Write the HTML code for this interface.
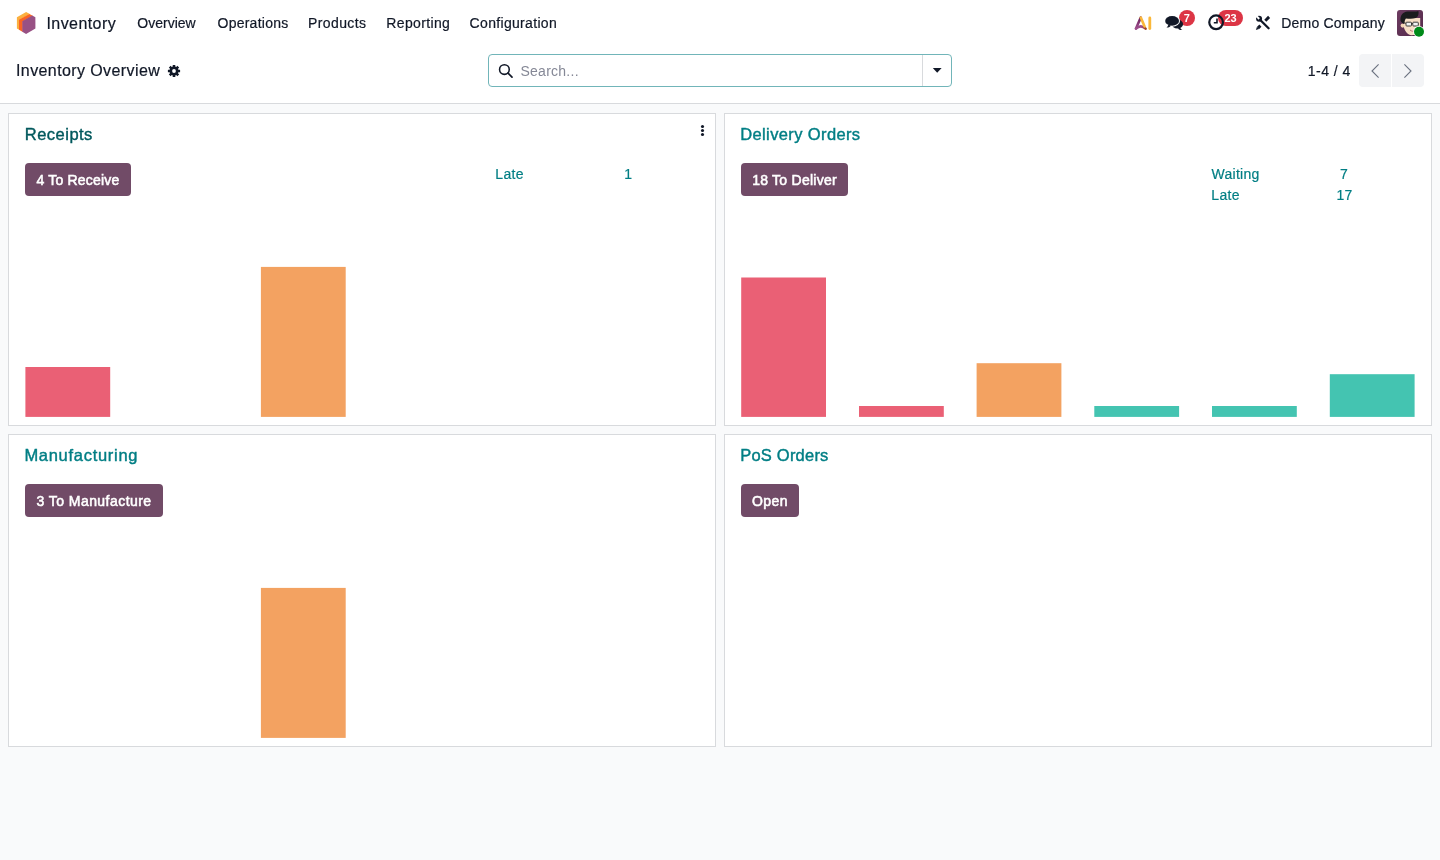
<!DOCTYPE html>
<html lang="en">
<head>
<meta charset="utf-8">
<title>Odoo - Inventory Overview</title>
<style>
*{box-sizing:border-box;margin:0;padding:0}
html,body{width:1440px;height:860px;overflow:hidden;background:#f9fafb;font-family:"Liberation Sans",Arial,sans-serif;color:#111827;font-size:14px}
.abs{position:absolute;white-space:nowrap;line-height:1}
svg.abs{z-index:2}
#top{position:absolute;left:0;top:0;width:1440px;height:103px;background:#fff}
#cpb{position:absolute;left:0;top:103px;width:1440px;height:1px;background:#d8dadd}
.nav{font-size:14px;color:#111827;-webkit-text-stroke:0.2px #111827}
.brand{font-size:16px;color:#111827;-webkit-text-stroke:0.2px #111827}
.card{position:absolute;width:708px;height:313px;background:#fff;border:1px solid #d8dadd}
.title{font-size:16.5px;color:#017e84;font-weight:normal;-webkit-text-stroke:0.42px currentColor}
.btn{position:absolute;height:33px;background:#714b67;border-radius:4px;color:#fff;font-weight:normal;-webkit-text-stroke:0.55px #fff;font-size:14px;line-height:34.5px;text-align:center;white-space:nowrap;letter-spacing:0.45px}
.lnk{font-size:14px;color:#017e84;-webkit-text-stroke:0.2px #017e84}
.bar{position:absolute}
.r{background:#ea6175}.o{background:#f4a261}.t{background:#43c5b1}
.badge{position:absolute;height:16px;border-radius:8px;background:#dc3545;color:#fff;font-weight:bold;font-size:11px;line-height:16px;text-align:center}
</style>
</head>
<body>
<div id="top"></div>
<div id="cpb"></div>

<!-- navbar -->
<svg class="abs" style="left:0;top:0" width="60" height="46" viewBox="0 0 60 46">
  <polygon points="16.9,17.2 26.1,12 29.9,14.1 19.5,20.1 19.5,30.1 16.9,28.6" fill="#fbb03f"/>
  <polygon points="19,19.8 29.4,13.9 32.7,15.75 22.8,21.5 22.8,32.1 19,29.8" fill="#f96424"/>
  <polygon points="22.3,21.2 32.2,15.5 35.4,17.2 35.4,28.6 26.1,34 22.3,31.8" fill="#985184"/>
</svg>
<span class="abs brand" id="t_brand" style="left:46.5px;top:16px;letter-spacing:0.42px">Inventory</span>
<span class="abs nav" id="t_n1" style="left:137.3px;top:16px">Overview</span>
<span class="abs nav" id="t_n2" style="left:217.5px;top:16px;letter-spacing:0.25px">Operations</span>
<span class="abs nav" id="t_n3" style="left:308px;top:16px;letter-spacing:0.4px">Products</span>
<span class="abs nav" id="t_n4" style="left:386.3px;top:16px;letter-spacing:0.35px">Reporting</span>
<span class="abs nav" id="t_n5" style="left:469.6px;top:16px;letter-spacing:0.32px">Configuration</span>

<span class="abs nav" id="t_co" style="left:1281.3px;top:16px;letter-spacing:0.2px">Demo Company</span>


<!-- systray icons -->
<svg class="abs" style="left:1128px;top:0" width="160" height="46" viewBox="1128 0 160 46">
  <defs>
    <linearGradient id="gA" x1="0" y1="0" x2="0" y2="1"><stop offset="0" stop-color="#6a1f5b"/><stop offset="1" stop-color="#a0528f"/></linearGradient>
    <linearGradient id="gB" x1="0" y1="0" x2="1" y2="0"><stop offset="0" stop-color="#9c4d8c"/><stop offset="0.6" stop-color="#9c4d8c"/><stop offset="1" stop-color="#a6431c"/></linearGradient>
  </defs>
  <!-- AI -->
  <path d="M1136 28.6 Q1140.7 24.2 1145.6 28.6" fill="none" stroke="url(#gB)" stroke-width="2.6" stroke-linecap="round"/>
  <path d="M1136 28.6 L1140.8 17.6" fill="none" stroke="url(#gA)" stroke-width="2.6" stroke-linecap="round"/>
  <path d="M1140.8 17.6 L1144.6 26.4" fill="none" stroke="#fbb83a" stroke-width="2.6" stroke-linecap="round"/>
  <path d="M1149.8 17.9 L1149.8 28.6" fill="none" stroke="#fbb83a" stroke-width="2.8" stroke-linecap="round"/>
  <!-- chat -->
  <g fill="#111827">
    <ellipse cx="1177.4" cy="24.1" rx="5.7" ry="4.5"/>
    <path d="M1180.2 27.4 c0.300 1.200 1 2 2.100 2.600 c-1.700 0.300 -3.200 -0.200 -4.400 -1.500z"/>
  </g>
  <ellipse cx="1172.1" cy="20.9" rx="7.9" ry="5.9" fill="#fff"/>
  <g fill="#111827">
    <ellipse cx="1172.1" cy="20.9" rx="6.9" ry="4.9"/>
    <path d="M1168.300 24.600 c-0.200 1.300 -0.800 2.200 -1.900 3 c1.900 0.100 3.400 -0.600 4.600 -1.900z"/>
  </g>
  <!-- clock -->
  <circle cx="1216.1" cy="22.3" r="6.850" fill="none" stroke="#111827" stroke-width="2.200"/>
  <path d="M1217 18.6 V22.8 H1213.8" fill="none" stroke="#111827" stroke-width="1.6"/>
  <!-- tools -->
  <circle cx="1259.07" cy="18.8" r="3" fill="#111827"/>
  <path d="M1259.3 19 L1255.3 15" stroke="#fff" stroke-width="1.9" fill="none"/>
  <g stroke="#111827" fill="none">
    <path d="M1260 19.700 L1268.600 28.200" stroke-width="2.300" stroke-linecap="round"/>
    <path d="M1265.300 20.700 L1269.100 16.900" stroke-width="2.900"/>
    <path d="M1260.400 25.600 L1257.900 28.100" stroke-width="2.900"/>
  </g>
  <path d="M1256.900 27.100 L1258.900 29.100 L1255.900 29.900z" fill="#111827"/>
</svg>
<div class="badge" style="left:1178.5px;top:10px;width:16.5px"><span id="t_bd1">7</span></div>
<div class="badge" style="left:1218.2px;top:10px;width:24.8px"><span id="t_bd2">23</span></div>

<!-- avatar -->
<svg class="abs" style="left:1394px;top:6px" width="36" height="36" viewBox="1394 6 36 36">
  <defs>
    <clipPath id="av"><rect x="1397" y="10" width="26" height="26" rx="3"/></clipPath>
    <linearGradient id="gav" x1="0" y1="0" x2="1" y2="1"><stop offset="0" stop-color="#6d3c61"/><stop offset="1" stop-color="#54294a"/></linearGradient>
  </defs>
  <g clip-path="url(#av)">
    <rect x="1397" y="10" width="26" height="26" fill="url(#gav)"/>
    <circle cx="1402.700" cy="25.600" r="2.100" fill="#f3d3b4"/>
    <path d="M1403.800 18 H1420.200 V27 c0 4 -3.200 8.200 -8.600 8.200 c-3.800 0 -6.600 -3.600 -7.800 -8.200z" fill="#f8dfc6"/>
    <path d="M1400.600 21 c-0.800 -5 2 -9 7 -9.400 c4 -0.300 8 0.500 10.800 -0.600 c0.600 2.600 0 5.600 -2.500 7.100 c-3.500 0.800 -7 0.600 -10 0.300 c-1.200 1.500 -1.400 3.200 -1.300 5.200 l-1.500 0.200 c-0.800 -1 -1.800 -1.800 -2.500 -2.800z" fill="#1b1b1d"/>
    <rect x="1406" y="22.200" width="5.500" height="3.800" rx="0.800" fill="#f3f3f3" stroke="#2a2a2a" stroke-width="0.900"/>
    <rect x="1412.800" y="22.200" width="5.500" height="3.800" rx="0.800" fill="#f3f3f3" stroke="#2a2a2a" stroke-width="0.900"/>
    <path d="M1411.500 23.500 h1.300 M1406 23.300 l-2.500 -0.600" stroke="#2a2a2a" stroke-width="0.800" fill="none"/>
    <path d="M1410 30 c1.500 1.300 3.500 1.500 5.500 0.500" stroke="#b0605a" stroke-width="0.900" fill="#fff"/>
  </g>
  <circle cx="1419" cy="31.700" r="5.800" fill="#fff"/>
  <circle cx="1419" cy="31.700" r="5" fill="#008a19"/>
</svg>

<!-- gear -->
<svg class="abs" style="left:166px;top:63px" width="16" height="16" viewBox="-8 -8 16 16">
  <g fill="#111827">
    <circle r="4.500"/>
    <g id="teeth"><rect x="-1.300" y="-6.100" width="2.600" height="12.200" rx="0.300"/><rect x="-6.100" y="-1.300" width="12.200" height="2.600" rx="0.300"/></g>
    <use href="#teeth" transform="rotate(45)"/>
  </g>
  <circle r="1.900" fill="#fff"/>
</svg>

<!-- search icons -->
<svg class="abs" style="left:494px;top:60px" width="24" height="22" viewBox="494 60 24 22">
  <circle cx="504.400" cy="69.500" r="4.850" fill="none" stroke="#111827" stroke-width="1.550"/>
  <path d="M508 73.100 L512 77.200" stroke="#111827" stroke-width="1.700" stroke-linecap="round"/>
</svg>
<svg class="abs" style="left:930px;top:64px" width="14" height="12" viewBox="930 64 14 12">
  <path d="M932.800 67.900 h8.800 l-4.400 4.800z" fill="#111827"/>
</svg>
<!-- pager chevrons -->
<svg class="abs" style="left:1359px;top:54px" width="65" height="33" viewBox="1359 54 65 33">
  <path d="M1378.600 64.400 L1372 71 L1378.600 77.700" fill="none" stroke="#6b7280" stroke-width="1.100"/>
  <path d="M1404.400 64.400 L1411 71 L1404.400 77.700" fill="none" stroke="#6b7280" stroke-width="1.100"/>
</svg>
<!-- kebab -->
<svg class="abs" style="left:698px;top:122px" width="10" height="16" viewBox="698 122 10 16">
  <g fill="#111827"><circle cx="702.500" cy="126.500" r="1.550"/><circle cx="702.500" cy="130.500" r="1.550"/><circle cx="702.500" cy="134.500" r="1.550"/></g>
</svg>

<!-- control panel -->
<span class="abs brand" id="t_bc" style="left:16px;top:63px;letter-spacing:0.4px">Inventory Overview</span>
<div class="abs" id="search" style="left:488px;top:54px;width:464px;height:33px;border:1px solid #71b5b9;border-radius:4px;background:#fff"></div>
<div class="abs" style="left:922px;top:55px;width:1px;height:31px;background:#d8dadd"></div>
<span class="abs" id="t_s" style="left:520.5px;top:64px;font-size:14px;color:#858896;letter-spacing:0.25px">Search...</span>
<span class="abs nav" id="t_pg" style="left:1307.8px;top:64px;letter-spacing:0.48px">1-4 / 4</span>
<div class="abs" style="left:1359px;top:54px;width:32px;height:33px;background:#f3f4f6;border-radius:4px 0 0 4px"></div>
<div class="abs" style="left:1392px;top:54px;width:32px;height:33px;background:#f3f4f6;border-radius:0 4px 4px 0"></div>

<!-- cards -->
<div class="card" style="left:8px;top:113px"></div>
<div class="card" style="left:724px;top:113px"></div>
<div class="card" style="left:8px;top:434px"></div>
<div class="card" style="left:724px;top:434px"></div>

<span class="abs title" id="t_c1" style="left:24.8px;top:126.4px;color:#01585c;letter-spacing:0.48px">Receipts</span>
<span class="abs title" id="t_c2" style="left:740.2px;top:126.4px;letter-spacing:0.38px">Delivery Orders</span>
<span class="abs title" id="t_c3" style="left:24.4px;top:447.4px;letter-spacing:0.71px">Manufacturing</span>
<span class="abs title" id="t_c4" style="left:740.2px;top:447.4px;letter-spacing:0.22px">PoS Orders</span>

<div class="btn" id="b1" style="left:25px;top:163px;width:106px"><span id="t_b1" style="letter-spacing:0.2px">4 To Receive</span></div>
<div class="btn" id="b2" style="left:741px;top:163px;width:107px"><span id="t_b2" style="letter-spacing:0.25px">18 To Deliver</span></div>
<div class="btn" id="b3" style="left:25px;top:484px;width:138px"><span id="t_b3">3 To Manufacture</span></div>
<div class="btn" id="b4" style="left:741px;top:484px;width:58px"><span id="t_b4">Open</span></div>

<span class="abs lnk" id="t_l1" style="left:495.3px;top:167px;letter-spacing:0.3px">Late</span>
<span class="abs lnk" id="t_v1" style="left:624.2px;top:167px">1</span>
<span class="abs lnk" id="t_l2" style="left:1211.6px;top:167px;letter-spacing:0.25px">Waiting</span>
<span class="abs lnk" id="t_v2" style="left:1340px;top:167px">7</span>
<span class="abs lnk" id="t_l3" style="left:1211.3px;top:188px;letter-spacing:0.3px">Late</span>
<span class="abs lnk" id="t_v3" style="left:1336.6px;top:188px">17</span>

<!-- bars -->
<svg class="abs" style="left:0;top:0;z-index:1" width="1440" height="860" viewBox="0 0 1440 860">
  <rect x="25.4" y="367" width="84.8" height="49.9" fill="#ea6075"/>
  <rect x="260.9" y="266.9" width="84.8" height="150.0" fill="#f3a261"/>
  <rect x="260.9" y="587.9" width="84.8" height="150.0" fill="#f3a261"/>
  <rect x="741.2" y="277.5" width="84.8" height="139.4" fill="#ea6075"/>
  <rect x="859.0" y="406" width="84.8" height="10.9" fill="#ea6075"/>
  <rect x="976.6" y="363.2" width="84.8" height="53.7" fill="#f3a261"/>
  <rect x="1094.3" y="406" width="84.8" height="10.9" fill="#44c4b1"/>
  <rect x="1212.0" y="406" width="84.8" height="10.9" fill="#44c4b1"/>
  <rect x="1329.8" y="374.2" width="84.8" height="42.7" fill="#44c4b1"/>
</svg>
</body>
</html>
